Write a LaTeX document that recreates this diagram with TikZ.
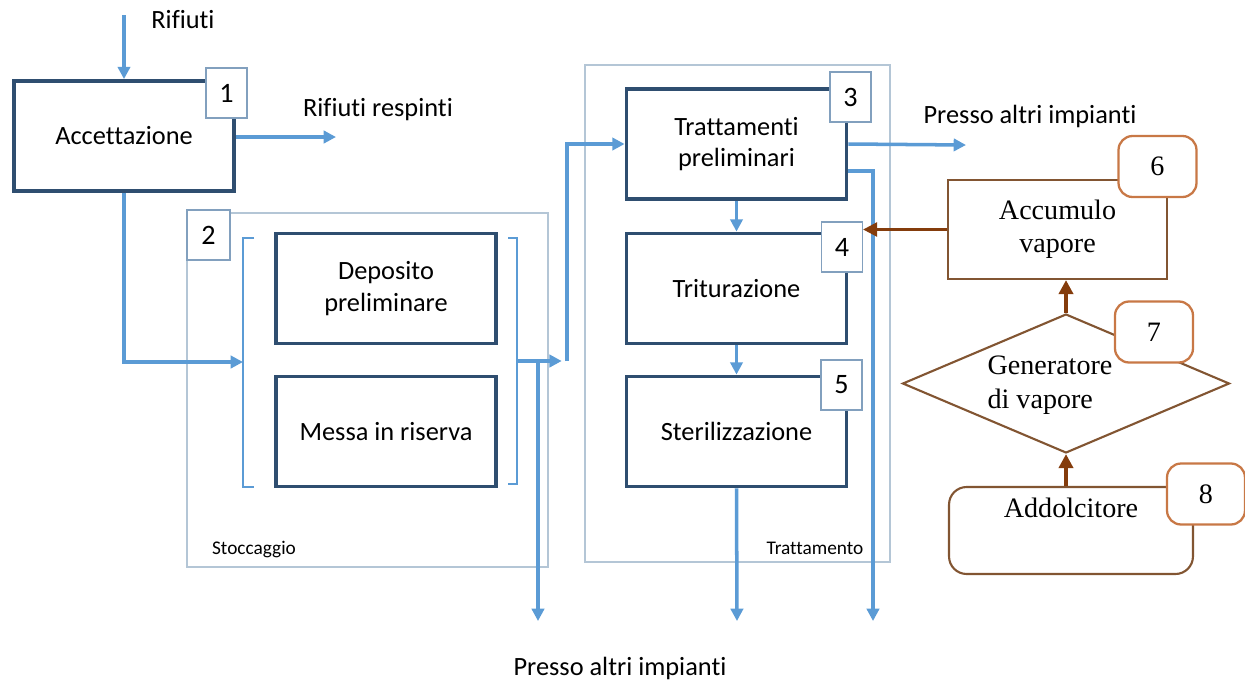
\documentclass[tikz,border=0pt]{standalone}
\usepackage{fontspec}
\setmainfont{Carlito}[Ligatures=NoCommon]
\newfontfamily\serifrm{Liberation Serif}
\usetikzlibrary{arrows.meta,shapes.geometric,calc}
\definecolor{flowblue}{RGB}{91,155,213}
\definecolor{boxblue}{RGB}{47,78,112}
\definecolor{framegray}{RGB}{180,198,214}
\definecolor{tagblue}{RGB}{130,160,190}
\definecolor{steambrown}{RGB}{132,60,12}
\definecolor{boxbrown}{RGB}{130,85,50}
\definecolor{tagorange}{RGB}{200,120,70}
\tikzset{
  flow/.style={draw=flowblue,line width=2pt,-{Triangle[length=7pt,width=7pt]}},
  stage/.style={draw=boxblue,line width=2.2pt,fill=white,minimum width=4.4cm,font=\fontsize{15}{18}\selectfont,align=center},
  tag/.style={draw=tagblue,line width=0.7pt,fill=white,minimum width=0.82cm,minimum height=1cm,inner sep=0pt,font=\fontsize{16}{18}\selectfont},
  unit/.style={draw=boxbrown,line width=1.2pt,fill=white,font=\serifrm\fontsize{16}{19}\selectfont,align=center},
  rtag/.style={draw=tagorange,line width=1.3pt,fill=white,rounded corners=8pt,minimum width=1.56cm,minimum height=1.22cm,inner sep=0pt,font=\serifrm\fontsize{16}{18}\selectfont},
  steam/.style={draw=steambrown,-{Triangle[length=8pt,width=8pt]}},
  lbl/.style={font=\fontsize{15}{18}\selectfont},
  frame/.style={draw=framegray,line width=0.8pt}
}
\begin{document}
\begin{tikzpicture}[x=0.02cm,y=-0.02cm]
    \useasboundingbox (0,0) rectangle (1245,684);
    \draw[frame] (187,213) rectangle (548,567);
    \draw[frame] (585,65) rectangle (890,562);
    \node[font=\fontsize{11}{13}\selectfont] (sto) at (254,550) {Stoccaggio};
    \node[font=\fontsize{11}{13}\selectfont] (trt) at (815,548) {Trattamento};

    \node[stage,minimum height=2.2cm] (acc) at (124,136) {Accettazione};
    \node[stage,minimum height=2.2cm] (dep) at (386,288.5) {Deposito\\preliminare};
    \node[stage,minimum height=2.2cm] (mes) at (386,431.5) {Messa in riserva};
    \node[stage,minimum height=2.2cm] (tra) at (736.5,144) {Trattamenti\\preliminari};
    \node[stage,minimum height=2.2cm] (tri) at (736.5,288.5) {Triturazione};
    \node[stage,minimum height=2.2cm] (ste) at (736.5,431.5) {Sterilizzazione};

    \node[tag] (b1) at (226.5,93) {1};
    \node[tag,minimum width=0.86cm] (b2) at (208.5,235) {2};
    \node[tag] (b3) at (850.5,97) {3};
    \node[tag] (b4) at (842,247) {4};
    \node[tag] (b5) at (841.5,385) {5};

    \draw[flowblue,line width=1.5pt] (254,238) -- (243,238) -- (243,487) -- (254,487);
    \draw[flowblue,line width=1.5pt] (508,238) -- (517,238) -- (517,484) -- (508,484);
    \coordinate (lbr) at (243,362);
    \coordinate (rbr) at (517,361);
    \coordinate (jn) at (567,361);
    \coordinate (sp) at (538,361);

    \node[lbl] (rif) at (183,20) {Rifiuti};
    \node[lbl] (resp) at (378,110) {Rifiuti respinti};
    \node[lbl] (alt1) at (1030,116) {Presso altri impianti};
    \node[lbl] (alt2) at (620,668) {Presso altri impianti};

    \coordinate (in) at (124,15);
    \coordinate (rej) at (336,137);
    \coordinate (o1) at (538,621);
    \coordinate (o2) at (966,145);
    \coordinate (o3) at (737,621);
    \coordinate (o4) at (873,621);

    \draw[flow] (in) -- (acc.north);
    \draw[flow] (acc.east |- rej) -- (rej);
    \draw[flow] (acc.south) |- (lbr);
    \draw[flow,shorten >=3pt] (rbr) -- (jn);
    \draw[flow] (jn) |- (tra.west);
    \draw[flow] (sp) -- (o1);
    \draw[flow] (tra.east) -- (o2);
    \draw[flow] ($(tra.east)+(0,27)$) -| (o4);
    \draw[flow] (tra.south) -- (tri.north);
    \draw[flow] (tri.south) -- (ste.north);
    \draw[flow] (ste.south) -- (o3);

    \node[unit,minimum width=4.38cm,minimum height=1.98cm] (acv) at (1057.5,229.5) {Accumulo\\vapore};
    \node[unit,diamond,minimum width=6.54cm,minimum height=2.78cm,inner sep=0pt] (gen) at (1066,383.5) {};
    \node[font=\serifrm\fontsize{16}{19}\selectfont,align=left] (gtx) at (1050,385) {Generatore\\di vapore};
    \node[unit,rounded corners=10pt,minimum width=4.88cm,minimum height=1.74cm,text depth=0.9cm] (add) at (1071,530.5) {Addolcitore};

    \node[rtag] (b6) at (1157.5,166.5) {6};
    \node[rtag] (b7) at (1154,332) {7};
    \node[rtag] (b8) at (1206,494) {8};

    \draw[steam,line width=1.5pt] (acv.west) -- (acv.west -| b4.east);
    \draw[steam,line width=2.4pt] (gen.north) -- (acv.south -| gen.north);
    \draw[steam,line width=2.4pt] (add.north -| gen.south) -- (gen.south);
\end{tikzpicture}
\end{document}
